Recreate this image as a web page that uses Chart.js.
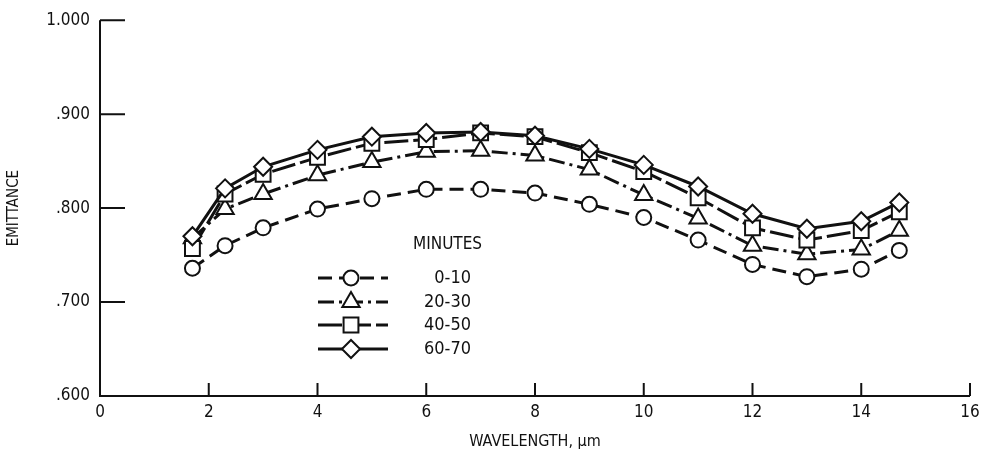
<!DOCTYPE html>
<html>
<head>
<meta charset="utf-8">
<title>Emittance vs wavelength</title>
<script src="https://cdn.jsdelivr.net/npm/chart.js@4/dist/chart.umd.min.js"></script>
<style>
  html, body { margin: 0; padding: 0; background: #fff; }
  #wrap { position: relative; width: 986px; height: 451px; }
</style>
</head>
<body>
<div id="wrap"><canvas id="chart" width="986" height="451"></canvas></div>
<script>
  // Values
  var wavelengths = [1.7, 2.3, 3, 4, 5, 6, 7, 8, 9, 10, 11, 12, 13, 14, 14.7];
  var min0to10  = [0.736, 0.760, 0.779, 0.799, 0.810, 0.820, 0.820, 0.816, 0.804, 0.790, 0.766, 0.740, 0.727, 0.735, 0.755];
  var min20to30 = [0.768, 0.799, 0.815, 0.835, 0.849, 0.860, 0.861, 0.856, 0.841, 0.814, 0.789, 0.760, 0.751, 0.756, 0.776];
  var min40to50 = [0.757, 0.815, 0.836, 0.854, 0.869, 0.873, 0.880, 0.876, 0.859, 0.839, 0.811, 0.779, 0.766, 0.776, 0.796];
  var min60to70 = [0.770, 0.821, 0.844, 0.862, 0.876, 0.880, 0.881, 0.877, 0.863, 0.846, 0.823, 0.794, 0.778, 0.786, 0.806];
  var seriesLabels = ['0-10', '20-30', '40-50', '60-70'];
  var xTicks = [0, 2, 4, 6, 8, 10, 12, 14, 16];
  var yTicks = [0.6, 0.7, 0.8, 0.9, 1.0];

  var FONT = "'DejaVu Sans Condensed', 'DejaVu Sans', sans-serif";
  var INK = '#111';

  function pts(vals) {
    return vals.map(function (v, i) { return { x: wavelengths[i], y: v }; });
  }

  function fmtY(v) {
    if (Math.abs(v - 1) < 1e-9) return '1.000';
    return v.toFixed(3).replace(/^0/, '');
  }

  var styles = [
    { pointStyle: 'circle',   radius: 7.5, dash: [14, 7] },
    { pointStyle: 'triangle', radius: 10,  dash: [16, 5, 3, 5] },
    { pointStyle: 'rect',     radius: 10.5, dash: [24, 5] },
    { pointStyle: 'rectRot',  radius: 9,   dash: [] }
  ];

  var allSeries = [min0to10, min20to30, min40to50, min60to70];

  var datasets = allSeries.map(function (vals, i) {
    var s = styles[i];
    return {
      label: seriesLabels[i],
      data: pts(vals),
      borderColor: INK,
      backgroundColor: '#fff',
      borderWidth: 3,
      borderDash: s.dash,
      pointStyle: s.pointStyle,
      pointRadius: s.radius,
      pointBorderWidth: 2,
      pointBackgroundColor: '#fff',
      pointBorderColor: INK,
      tension: 0,
      order: 3 - i
    };
  });

  // Axis lines with inward ticks, drawn from the scales
  var axesPlugin = {
    id: 'axes',
    afterDatasetsDraw: function (chart) {
      var ctx = chart.ctx, xs = chart.scales.x, ys = chart.scales.y;
      var left = xs.getPixelForValue(0), right = xs.getPixelForValue(16);
      var bottom = ys.getPixelForValue(0.6), top = ys.getPixelForValue(1.0);
      ctx.save();
      ctx.strokeStyle = INK;
      ctx.lineWidth = 2;
      ctx.setLineDash([]);
      ctx.beginPath();
      ctx.moveTo(left, top);
      ctx.lineTo(left, bottom);
      ctx.lineTo(right, bottom);
      yTicks.forEach(function (v) {
        if (v === 0.6) return;
        var y = ys.getPixelForValue(v);
        ctx.moveTo(left, y);
        ctx.lineTo(left + 25, y);
      });
      xTicks.forEach(function (v) {
        if (v === 0) return;
        var x = xs.getPixelForValue(v);
        ctx.moveTo(x, bottom);
        ctx.lineTo(x, bottom - 13);
      });
      ctx.stroke();
      ctx.restore();
    }
  };

  // Hand drawn legend like the original figure
  var legendPlugin = {
    id: 'minutesLegend',
    afterDraw: function (chart) {
      var ctx = chart.ctx;
      ctx.save();
      ctx.fillStyle = INK;
      ctx.font = '17px ' + FONT;
      ctx.textBaseline = 'middle';
      ctx.textAlign = 'left';
      ctx.fillText('MINUTES', 413, 245);
      var rowsY = [278, 302, 325, 349];
      datasets.forEach(function (ds, i) {
        var y = rowsY[i];
        ctx.strokeStyle = INK;
        ctx.lineWidth = 3;
        ctx.setLineDash(ds.borderDash);
        ctx.beginPath();
        ctx.moveTo(318, y);
        ctx.lineTo(388, y);
        ctx.stroke();
        ctx.setLineDash([]);
        ctx.fillStyle = '#fff';
        ctx.strokeStyle = INK;
        ctx.lineWidth = 2;
        Chart.helpers.drawPoint(ctx, {
          pointStyle: ds.pointStyle,
          radius: ds.pointRadius,
          rotation: 0,
          borderWidth: 2
        }, 351, y);
        ctx.fillStyle = INK;
        ctx.textAlign = 'right';
        ctx.font = '18px ' + FONT;
        ctx.fillText(ds.label, 471, y);
      });
      ctx.restore();
    }
  };

  new Chart(document.getElementById('chart'), {
    type: 'line',
    data: { datasets: datasets },
    options: {
      responsive: false,
      animation: false,
      layout: { padding: { top: 15, right: 16, bottom: 0, left: 5 } },
      plugins: {
        legend: { display: false },
        tooltip: { enabled: false }
      },
      scales: {
        x: {
          type: 'linear',
          min: 0,
          max: 16,
          afterBuildTicks: function (scale) {
            scale.ticks = xTicks.map(function (v) { return { value: v }; });
          },
          afterFit: function (scale) { scale.height = 55; },
          grid: { display: false, drawTicks: false },
          border: { display: false },
          ticks: {
            color: INK,
            padding: 6,
            maxRotation: 0,
            font: { family: FONT, size: 17 }
          },
          title: {
            display: true,
            text: 'WAVELENGTH, μm',
            color: INK,
            padding: { top: 4, bottom: 0 },
            font: { family: FONT, size: 16 }
          }
        },
        y: {
          type: 'linear',
          min: 0.6,
          max: 1.0,
          afterBuildTicks: function (scale) {
            scale.ticks = yTicks.map(function (v) { return { value: v }; });
          },
          afterFit: function (scale) { scale.width = 95; },
          grid: { display: false, drawTicks: false },
          border: { display: false },
          ticks: {
            color: INK,
            padding: 10,
            font: { family: FONT, size: 17 },
            callback: function (v) { return fmtY(v); }
          },
          title: {
            display: true,
            text: 'EMITTANCE',
            color: INK,
            padding: { top: 0, bottom: 0 },
            font: { family: FONT, size: 15 }
          }
        }
      }
    },
    plugins: [axesPlugin, legendPlugin]
  });
</script>
</body>
</html>
